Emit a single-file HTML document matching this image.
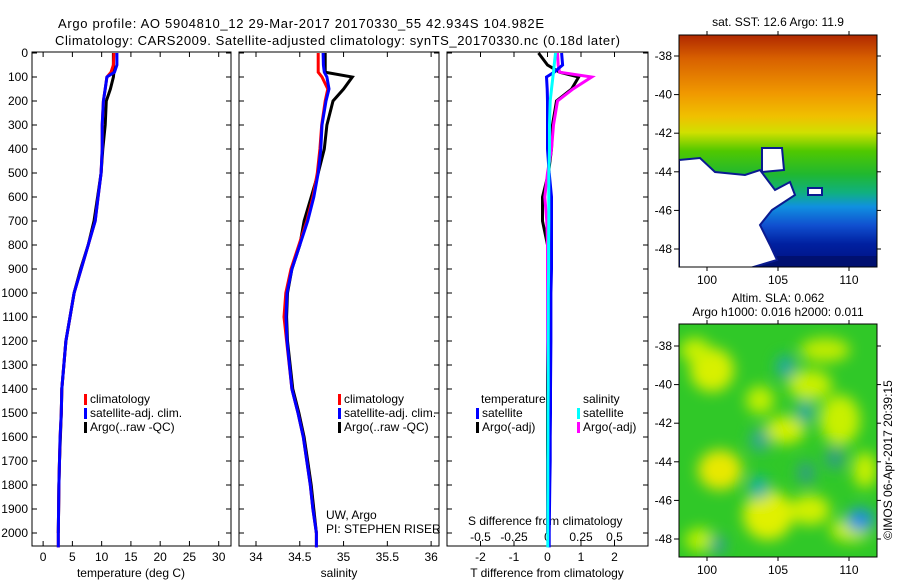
<!DOCTYPE html>
<html><head><meta charset="utf-8"><style>
body{margin:0;background:#fff}
svg{display:block;font-family:"Liberation Sans",sans-serif;font-size:12px}
</style></head><body>
<svg id="c" width="900" height="580" viewBox="0 0 900 580">
<defs>
<clipPath id="m1c"><rect x="679" y="35" width="198" height="232"/></clipPath>
<clipPath id="m2c"><rect x="679" y="324" width="198" height="233"/></clipPath>
<linearGradient id="sstg" gradientUnits="userSpaceOnUse" x1="778" y1="35" x2="778" y2="267">
<stop offset="0" stop-color="#b02800"/><stop offset="0.1" stop-color="#d86000"/>
<stop offset="0.25" stop-color="#f09800"/><stop offset="0.35" stop-color="#f0c000"/>
<stop offset="0.42" stop-color="#d0e000"/><stop offset="0.5" stop-color="#50c800"/>
<stop offset="0.6" stop-color="#20b830"/><stop offset="0.68" stop-color="#10b080"/>
<stop offset="0.74" stop-color="#1090e0"/><stop offset="0.82" stop-color="#1050d0"/>
<stop offset="0.9" stop-color="#0020a0"/><stop offset="1" stop-color="#001080"/>
</linearGradient>
<filter id="blur" x="-50%" y="-50%" width="200%" height="200%"><feGaussianBlur stdDeviation="7"/></filter>
</defs>
<text x="58" y="28" font-size="13" textLength="486">Argo profile: AO 5904810_12 29-Mar-2017 20170330_55 42.934S 104.982E</text>
<text x="55" y="45" font-size="13" textLength="565">Climatology: CARS2009. Satellite-adjusted climatology: synTS_20170330.nc (0.18d later)</text>
<g id="panels"></g>
<g id="maps"></g>
</svg>
<script>
// ---- data ----
const depthTicks=[0,100,200,300,400,500,600,700,800,900,1000,1100,1200,1300,1400,1500,1600,1700,1800,1900,2000];
const tempTicks=[0,5,10,15,20,25,30];
const salTicks=[34,34.5,35,35.5,36];
const dTTicks=[-2,-1,0,1,2];
const dSTicks=[-0.5,-0.25,0,0.25,0.5];
const dSTickLabels=["-0.5","-0.25","0","0.25","0.5"];
const depths=[0,50,80,100,150,200,300,400,500,600,700,800,900,1000,1100,1200,1400,1500,1600,1700,1800,1900,2000,2060];
const tempClim=[12.1,12.0,11.6,10.9,10.6,10.3,10.1,10.1,9.9,9.4,8.9,7.7,6.5,5.3,4.6,3.9,3.2,3.1,2.9,2.8,2.7,2.65,2.6,2.6];
const tempSat=[12.6,12.6,12.2,10.9,10.6,10.3,10.1,10.1,9.9,9.4,8.9,7.7,6.5,5.3,4.6,3.9,3.2,3.1,2.9,2.8,2.7,2.65,2.6,2.6];
const tempArgo=[12.0,12.0,12.1,12.0,11.5,10.8,10.6,10.2,9.9,9.3,8.7,7.7,6.4,5.3,4.6,3.9,3.2,3.1,2.95,2.8,2.7,2.65,2.6,null];
const salClim=[34.71,34.71,34.71,34.754,34.82,34.79,34.75,34.73,34.70,34.65,34.58,34.49,34.40,34.34,34.32,34.35,34.41,34.48,34.54,34.58,34.62,34.65,34.69,34.69];
const salSat=[34.766,34.77,34.78,34.81,34.834,34.80,34.754,34.74,34.71,34.66,34.59,34.50,34.41,34.354,34.343,34.354,34.41,34.48,34.54,34.58,34.62,34.65,34.69,34.69];
const salArgo=[34.79,34.79,34.79,35.10,35.00,34.88,34.81,34.78,34.71,34.63,34.55,34.50,34.41,34.36,34.35,34.36,34.42,34.49,34.55,34.59,34.63,34.66,34.69,null];
const dTSat=[0.42,0.45,0.2,-0.03,-0.01,0,0,0,0.05,0.12,0.12,0.12,0.12,0.1,0.1,0.1,0.09,0.09,0.08,0.08,0.07,0.06,0.05,0.05];
const dTArgo=[-0.27,0,0.36,0.93,0.72,0.27,0.15,0.12,0.03,-0.15,-0.15,0,0,0,0,0,0,0,0,0,0,0,0,null];
const dSSat=[0.06,0.05,0.045,0.04,0.03,0.02,0.015,0.015,0.01,0.01,0.01,0.008,0.008,0.006,0.006,0.005,0.005,0.004,0.004,0.003,0.003,0.002,0.002,0.002];
const dSArgo=[0.075,0.08,0.09,0.33,0.19,0.075,0.045,0.03,0,-0.02,-0.005,0,0,0,0,0,0.005,0.005,0.005,0.003,0.003,0.002,0.002,null];
const latTicks=[-38,-40,-42,-44,-46,-48];
const lonTicks=[100,105,110];

const NS="http://www.w3.org/2000/svg";
function mk(parent,tag,attrs,text){const e=document.createElementNS(NS,tag);for(const k in attrs)e.setAttribute(k,attrs[k]);if(text!==undefined)e.textContent=text;parent.appendChild(e);return e;}
const P=document.getElementById('panels');
const yD=d=>53+d*0.24;
const pTop=52,pBot=546;
const panels=[
 {x0:32,x1:231,min:-1.9,max:32.1,name:'temperature'},
 {x0:239,x1:439,min:33.806,max:36.09,name:'salinity'},
 {x0:447,x1:648,min:-3,max:3,name:'difference'}];
function sx(p,v){return p.x0+(v-p.min)/(p.max-p.min)*(p.x1-p.x0);}
function line(p,vals,scale,color,name){
 let pts=[];depths.forEach((d,i)=>{if(vals[i]!==null)pts.push(sx(p,vals[i]*scale).toFixed(1)+','+yD(d).toFixed(1));});
 const el=mk(P,'polyline',{points:pts.join(' '),fill:'none',stroke:color,'stroke-width':3,'stroke-linejoin':'miter'});
 
 
}
panels.forEach((p,pi)=>{
 const f=mk(P,'rect',{x:p.x0,y:pTop,width:p.x1-p.x0,height:pBot-pTop,fill:'none',stroke:'#000','stroke-width':1});
 
 
 depthTicks.forEach(d=>{
  mk(P,'line',{x1:p.x0,x2:p.x0+5,y1:yD(d),y2:yD(d),stroke:'#000'});
  mk(P,'line',{x1:p.x1,x2:p.x1-5,y1:yD(d),y2:yD(d),stroke:'#000'});
 });
});
depthTicks.forEach(d=>{const t=mk(P,'text',{x:28,y:yD(d)+4,'text-anchor':'end'},String(d));
 
 });
function xTicks(p,ticks,labels,ly,scale){ticks.forEach((v,i)=>{const x=sx(p,v*scale);
 mk(P,'line',{x1:x,x2:x,y1:pBot,y2:pBot-5,stroke:'#000'});mk(P,'line',{x1:x,x2:x,y1:pTop,y2:pTop+5,stroke:'#000'});
 if(ly){const t=mk(P,'text',{x:x,y:ly,'text-anchor':'middle'},labels[i]);
 
 }});}
xTicks(panels[0],tempTicks,tempTicks.map(String),561,1);
xTicks(panels[1],salTicks,salTicks.map(String),561,1);
xTicks(panels[2],dTTicks,dTTicks.map(String),561,1);
dSTicks.forEach((v,i)=>{const t=mk(P,'text',{x:sx(panels[2],v*4),y:541,'text-anchor':'middle'},dSTickLabels[i]);
 
 });
[['temperature (deg C)',131,'temperature-axis-title'],['salinity',339,'salinity-axis-title'],['T difference from climatology',547,'t-diff-axis-title']].forEach(a=>{
 const t=mk(P,'text',{x:a[1],y:577,'text-anchor':'middle'},a[0]);
 
 });
const st=mk(P,'text',{x:468,y:525},'S difference from climatology');


line(panels[0],tempArgo,1,'#000','temp-argo-line');
line(panels[0],tempClim,1,'#f00','temp-clim-line');
line(panels[0],tempSat,1,'#00f','temp-sat-line');
line(panels[1],salArgo,1,'#000','sal-argo-line');
line(panels[1],salClim,1,'#f00','sal-clim-line');
line(panels[1],salSat,1,'#00f','sal-sat-line');
line(panels[2],dTArgo,1,'#000','dT-argo-line');
line(panels[2],dSArgo,4,'#f0f','dS-argo-line');
line(panels[2],dTSat,1,'#00f','dT-sat-line');
line(panels[2],dSSat,4,'#0ff','dS-sat-line');
function leg(x,y,color,label){mk(P,'rect',{x:x-6,y:y-9,width:3,height:11,fill:color});
 const t=mk(P,'text',{x:x,y:y},label);
 
 }
[['climatology','#f00'],['satellite-adj. clim.','#00f'],['Argo(..raw -QC)','#000']].forEach((e,i)=>leg(90,403+i*14,e[1],e[0]));
[['climatology','#f00'],['satellite-adj. clim.','#00f'],['Argo(..raw -QC)','#000']].forEach((e,i)=>leg(344,403+i*14,e[1],e[0]));
mk(P,'text',{x:481,y:403},'temperature');mk(P,'text',{x:583,y:403},'salinity');
leg(482,417,'#00f','satellite');leg(482,431,'#000','Argo(-adj)');
leg(583,417,'#0ff','satellite');leg(583,431,'#f0f','Argo(-adj)');
mk(P,'text',{x:326,y:519},'UW, Argo');mk(P,'text',{x:326,y:533},'PI: STEPHEN RISER');

// ---- maps ----
const M=document.getElementById('maps');
const yLat1=l=>56+(-38-l)*19.3, yLat2=l=>346+(-38-l)*19.3, xLon=l=>707+(l-100)*14.2;
const g1=mk(M,'g',{'clip-path':'url(#m1c)'});


mk(g1,'rect',{x:679,y:35,width:198,height:232,fill:'url(#sstg)'});
mk(g1,'rect',{x:740,y:256,width:140,height:12,fill:'#001070'});
[[[679,160],[700,158],[715,172],[745,175],[760,170],[775,190],[790,182],[795,195],[772,210],[760,225],[770,245],[777,260],[750,268],[679,268]],
 [[762,148],[782,148],[784,170],[762,172]],[[808,188],[822,188],[822,195],[808,195]]].forEach(pg=>{
 mk(g1,'polygon',{points:pg.map(p=>p.join(',')).join(' '),fill:'#fff',stroke:'#0a1a90','stroke-width':2});});
mk(M,'rect',{x:679,y:35,width:198,height:232,fill:'none',stroke:'#000'});
const g2=mk(M,'g',{'clip-path':'url(#m2c)'});


mk(g2,'rect',{x:679,y:324,width:198,height:233,fill:'#30c828'});
const gb=mk(g2,'g',{filter:'url(#blur)'});
[[712,370,22,22,'#d8f000'],[695,350,15,12,'#c8f000'],[720,470,22,20,'#e8e800'],[760,400,14,14,'#c0f000'],[785,430,20,14,'#d0f000'],[810,385,22,15,'#c8f000'],
 [825,350,25,12,'#c0ec00'],[840,420,20,25,'#c8f000'],[768,515,25,25,'#e0f000'],[810,510,20,15,'#d0f000'],[850,530,20,12,'#c8f000'],[700,540,15,12,'#b8f000'],[865,470,12,18,'#c8f000'],
 [786,367,10,12,'#20a8a0'],[805,412,9,12,'#20a8a0'],[760,440,10,12,'#30a890'],[759,488,10,12,'#10b0a8'],[806,473,9,12,'#30a080'],[835,458,10,12,'#30a080'],[860,520,14,12,'#2090e0'],[718,545,8,10,'#30a090']
].forEach(b=>mk(gb,'ellipse',{cx:b[0],cy:b[1],rx:b[2],ry:b[3],fill:b[4]}));
mk(M,'rect',{x:679,y:324,width:198,height:233,fill:'none',stroke:'#000'});
[[yLat1,35,267,280],[yLat2,324,557,570]].forEach(m=>{
 latTicks.forEach(l=>{const y=m[0](l);mk(M,'line',{x1:679,x2:674,y1:y,y2:y,stroke:'#000'});mk(M,'line',{x1:877,x2:881,y1:y,y2:y,stroke:'#000'});
  const t=mk(M,'text',{x:672,y:y+4,'text-anchor':'end'},String(l));
  
  });
 lonTicks.forEach(l=>{const x=xLon(l);mk(M,'line',{x1:x,x2:x,y1:m[2],y2:m[2]+4,stroke:'#000'});mk(M,'line',{x1:x,x2:x,y1:m[1],y2:m[1]-4,stroke:'#000'});
  const t=mk(M,'text',{x:x,y:m[3]+4,'text-anchor':'middle'},String(l));
  
  });
});
mk(M,'text',{x:778,y:26,'text-anchor':'middle'},'sat. SST: 12.6 Argo: 11.9');
mk(M,'text',{x:778,y:302,'text-anchor':'middle'},'Altim. SLA: 0.062');
mk(M,'text',{x:778,y:316,'text-anchor':'middle'},'Argo h1000: 0.016 h2000: 0.011');
mk(M,'text',{x:892,y:460,'text-anchor':'middle',transform:'rotate(-90 892 460)'},'©IMOS 06-Apr-2017 20:39:15');
</script>
</body></html>
